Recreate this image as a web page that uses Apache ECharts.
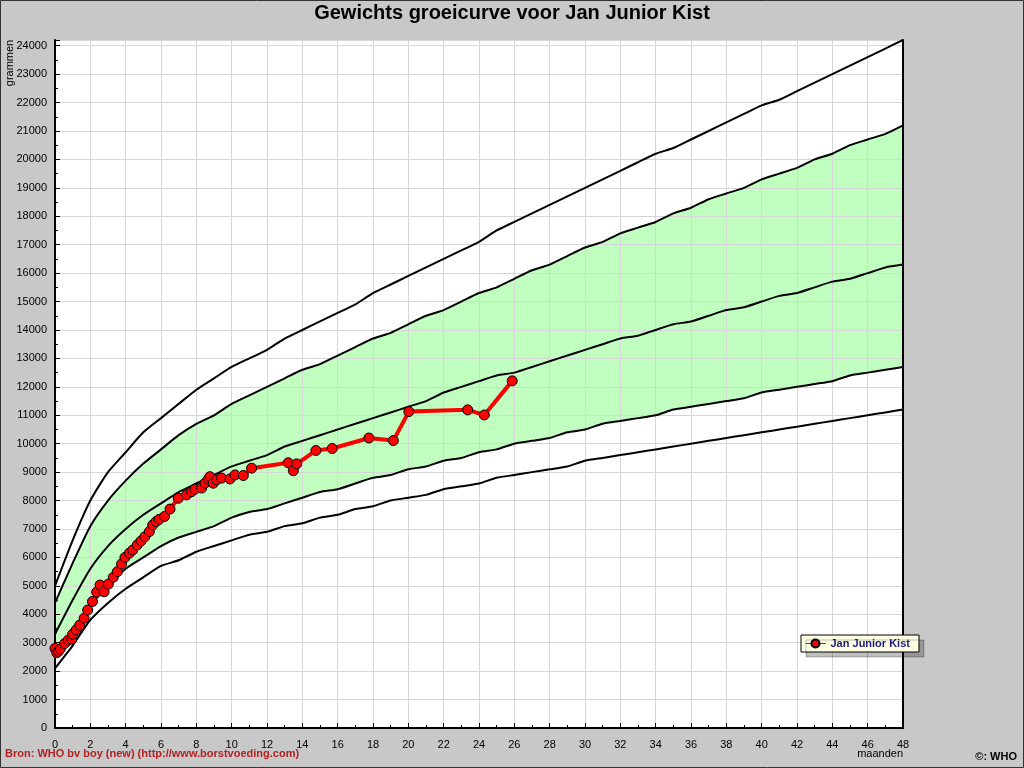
<!DOCTYPE html>
<html>
<head>
<meta charset="utf-8">
<script src="https://cdn.jsdelivr.net/npm/echarts@6/dist/echarts.min.js"></script>
<style>html,body{margin:0;padding:0;background:#c8c8c8;}#c{width:1024px;height:768px;}</style>
</head>
<body>
<div id="c"></div>
<script>
// WHO weight-for-age boys, reference curves (grams) by month
const months = [0,1,2,3,4,5,6,7,8,9,10,11,12,13,14,15,16,17,18,19,20,21,22,23,24,25,26,27,28,29,30,31,32,33,34,35,36,37,38,39,40,41,42,43,44,45,46,47,48];
const sdMinus3 = [2100,2900,3800,4400,4900,5300,5700,5900,6200,6400,6600,6800,6900,7100,7200,7400,7500,7700,7800,8000,8100,8200,8400,8500,8600,8800,8900,9000,9100,9200,9400,9500,9600,9700,9800,9900,10000,10100,10200,10300,10400,10500,10600,10700,10800,10900,11000,11100,11200];
const sdMinus2 = [2500,3400,4300,5000,5600,6000,6400,6700,6900,7100,7400,7600,7700,7900,8100,8300,8400,8600,8800,8900,9100,9200,9400,9500,9700,9800,10000,10100,10200,10400,10500,10700,10800,10900,11000,11200,11300,11400,11500,11600,11800,11900,12000,12100,12200,12400,12500,12600,12700];
const median = [3300,4500,5600,6400,7000,7500,7900,8300,8600,8900,9200,9400,9600,9900,10100,10300,10500,10700,10900,11100,11300,11500,11800,12000,12200,12400,12500,12700,12900,13100,13300,13500,13700,13800,14000,14200,14300,14500,14700,14800,15000,15200,15300,15500,15700,15800,16000,16200,16300];
const sdPlus2 = [4400,5800,7100,8000,8700,9300,9800,10300,10700,11000,11400,11700,12000,12300,12600,12800,13100,13400,13700,13900,14200,14500,14700,15000,15300,15500,15800,16100,16300,16600,16900,17100,17400,17600,17800,18100,18300,18600,18800,19000,19300,19500,19700,20000,20200,20500,20700,20900,21200];
const sdPlus3 = [5000,6600,8000,9000,9700,10400,10900,11400,11900,12300,12700,13000,13300,13700,14000,14300,14600,14900,15300,15600,15900,16200,16500,16800,17100,17500,17800,18100,18400,18700,19000,19300,19600,19900,20200,20400,20700,21000,21300,21600,21900,22100,22400,22700,23000,23300,23600,23900,24200];

// Child measurements
const childName = 'Jan Junior Kist';
const childAge = [0.00,0.10,0.20,0.30,0.55,0.75,0.95,1.00,1.20,1.40,1.65,1.85,2.12,2.36,2.55,2.78,3.02,3.30,3.53,3.77,3.96,4.21,4.40,4.66,4.87,5.09,5.34,5.53,5.72,5.90,6.20,6.51,6.98,7.45,7.73,7.92,8.30,8.49,8.68,8.77,8.96,9.15,9.43,9.90,10.19,10.66,11.13,13.20,13.49,13.68,14.77,15.69,17.77,19.15,20.03,23.36,24.30,25.88];
const childWeight = [2800,2650,2700,2780,2970,3090,3130,3300,3450,3620,3860,4150,4450,4780,5030,4790,5060,5300,5500,5770,6000,6150,6260,6440,6580,6730,6910,7140,7260,7340,7440,7700,8080,8200,8310,8400,8440,8610,8750,8840,8610,8730,8790,8760,8900,8880,9140,9330,9050,9290,9760,9830,10200,10110,11130,11190,11010,12210];

const pairs = (arr) => months.map((m, i) => [m, arr[i]]);
const childData = childAge.map((a, i) => [a, childWeight[i]]);

const FONT = 'Liberation Sans, Arial, sans-serif';
const curve = (name, arr) => ({
  name: name, type: 'line', data: pairs(arr), symbol: 'none', z: 3, silent: true, smooth: 0.2,
  lineStyle: { color: '#000', width: 2 }
});

const chart = echarts.init(document.getElementById('c'), null, { renderer: 'canvas' });
chart.setOption({
  animation: false,
  backgroundColor: '#c8c8c8',
  title: {
    text: 'Gewichts groeicurve voor Jan Junior Kist',
    left: 'center', top: -2,
    textStyle: { fontFamily: FONT, fontSize: 20, fontWeight: 'bold', color: '#000' }
  },
  grid: { left: 55, right: 121, top: 40, bottom: 40, show: true, backgroundColor: '#fff', borderWidth: 0, z: 0 },
  legend: {
    data: [childName],
    left: 801, top: 635,
    backgroundColor: '#ffffe4', borderColor: '#000', borderWidth: 1,
    padding: [3, 9, 3, 4],
    shadowColor: 'rgba(0,0,0,0.25)', shadowOffsetX: 5, shadowOffsetY: 5, shadowBlur: 0,
    itemWidth: 20, itemHeight: 10,
    lineStyle: { width: 1 },
    textStyle: { fontFamily: FONT, fontSize: 11, fontWeight: 'bold', color: '#1a1a80' }
  },
  xAxis: {
    type: 'value', min: 0, max: 48, interval: 2, z: 2,
    axisLine: { show: true, onZero: false, lineStyle: { color: '#000', width: 2 } },
    axisTick: { show: true, inside: true, length: 5, lineStyle: { color: '#000' } },
    minorTick: { show: true, splitNumber: 2, length: 3, lineStyle: { color: '#000' } },
    splitLine: { show: true, lineStyle: { color: '#d6d6d6', width: 1 } },
    axisLabel: { color: '#000', fontFamily: FONT, fontSize: 11, margin: 11 }
  },
  yAxis: [{
    type: 'value', min: 0, max: 24200, interval: 1000, z: 2,
    axisLine: { show: true, lineStyle: { color: '#000', width: 2 } },
    axisTick: { show: true, inside: true, length: 5, lineStyle: { color: '#000' } },
    minorTick: { show: true, splitNumber: 2, length: 3, lineStyle: { color: '#000' } },
    splitLine: { show: true, lineStyle: { color: '#d6d6d6', width: 1 } },
    axisLabel: { color: '#000', fontFamily: FONT, fontSize: 11, margin: 8, showMaxLabel: false,
      formatter: (v) => (v % 1000 === 0 ? String(v) : '') }
  }, {
    type: 'value', min: 0, max: 24200, position: 'right', z: 2,
    axisLine: { show: true, lineStyle: { color: '#000', width: 2 } },
    axisTick: { show: false }, axisLabel: { show: false }, splitLine: { show: false }
  }],
  series: [
    { name: 'band', type: 'custom', z: 1, silent: true, data: [0],
      renderItem: function (params, api) {
        const upper = months.map((m, i) => api.coord([m, sdPlus2[i]]));
        const lower = months.map((m, i) => api.coord([m, sdMinus2[i]])).reverse();
        return {
          type: 'polygon',
          shape: { points: upper.concat(lower), smooth: 0 },
          style: { fill: '#c0ffc0', stroke: null }
        };
      } },
    curve('-3SD', sdMinus3),
    curve('-2SD', sdMinus2),
    curve('Mediaan', median),
    curve('+2SD', sdPlus2),
    curve('+3SD', sdPlus3),
    { name: childName, type: 'line', data: childData, z: 4,
      symbol: 'circle', symbolSize: 10,
      lineStyle: { color: '#ff0000', width: 4 },
      itemStyle: { color: '#ff0000', borderColor: '#000', borderWidth: 1 } }
  ],
  graphic: [
    { type: 'text', x: 10, y: 63, rotation: Math.PI / 2,
      style: { text: 'grammen', font: '11px ' + FONT, fill: '#000', textAlign: 'center', textVerticalAlign: 'middle' } },
    { type: 'text', x: 903, y: 754,
      style: { text: 'maanden', font: '11px ' + FONT, fill: '#000', textAlign: 'right', textVerticalAlign: 'middle' } },
    { type: 'text', x: 5, y: 754,
      style: { text: 'Bron: WHO bv boy (new) (http://www.borstvoeding.com)', font: 'bold 11px ' + FONT, fill: '#b22222', textAlign: 'left', textVerticalAlign: 'middle' } },
    { type: 'text', x: 1017, y: 757,
      style: { text: '©: WHO', font: 'bold 11px ' + FONT, fill: '#000', textAlign: 'right', textVerticalAlign: 'middle' } },
    { type: 'rect', shape: { x: 0.5, y: 0.5, width: 1023, height: 767 }, silent: true,
      style: { fill: 'none', stroke: '#333', lineWidth: 1 } }
  ]
});
</script>
</body>
</html>
